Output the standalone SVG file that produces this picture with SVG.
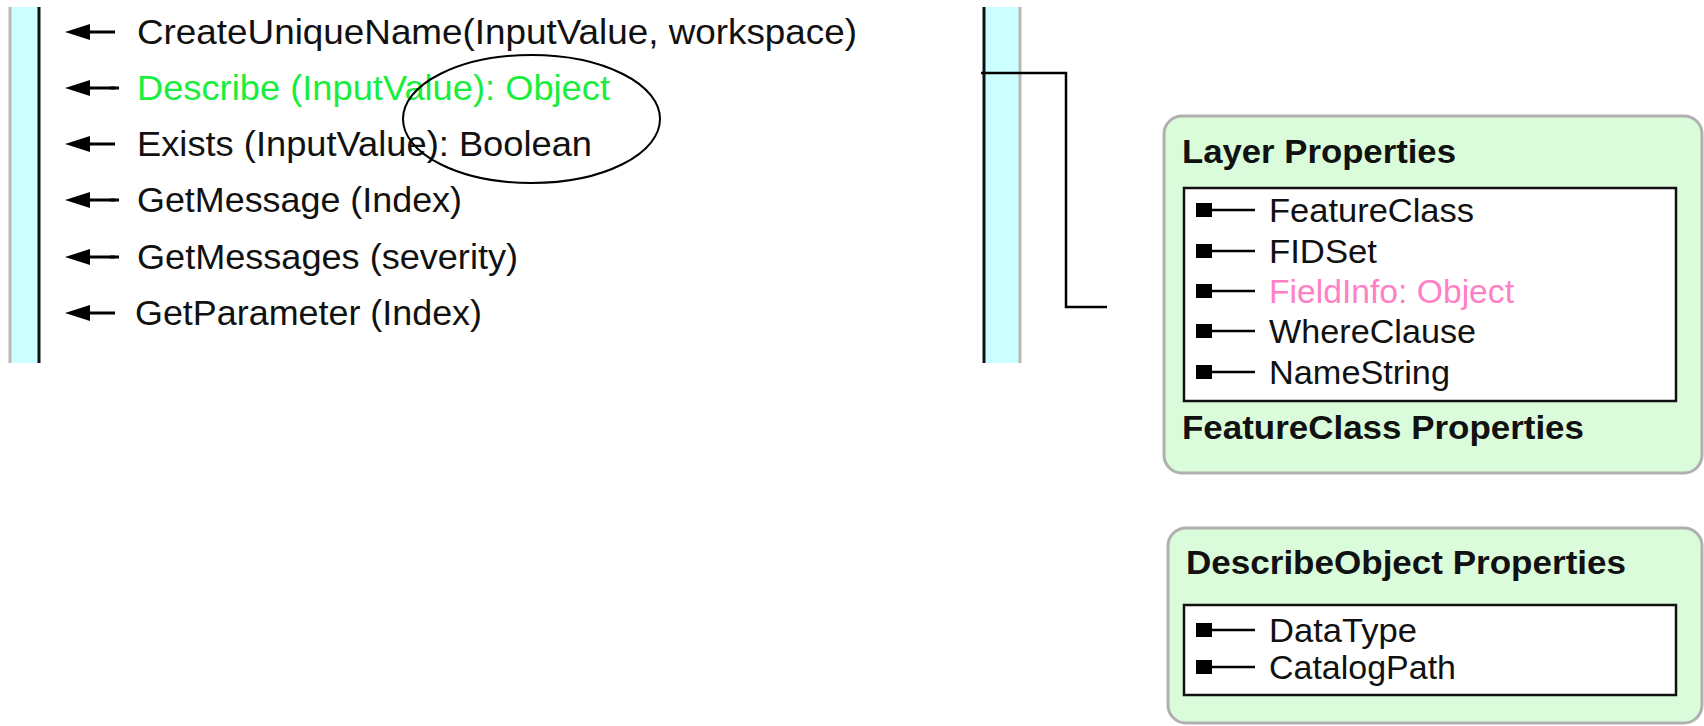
<svg xmlns="http://www.w3.org/2000/svg" width="1704" height="726" viewBox="0 0 1704 726">
  <style>
    .band { fill: #ccffff; }
    .edge-gray { stroke: #b8b8b8; stroke-width: 3; }
    .edge-dark { stroke: #111111; stroke-width: 3; }
    .method { font-family: "Liberation Sans", Arial, sans-serif; font-size: 35px; fill: #111111; }
    .method.hl { fill: #19ee3c; }
    .panel { fill: #dafcda; stroke: #b0b0b0; stroke-width: 3; }
    .list { fill: #ffffff; stroke: #111111; stroke-width: 2.5; }
    .title { font-family: "Liberation Sans", Arial, sans-serif; font-size: 33px; font-weight: bold; fill: #111111; }
    .prop { font-family: "Liberation Sans", Arial, sans-serif; font-size: 33px; fill: #111111; }
    .prop.hl { fill: #ff80c4; }
    .wire { stroke: #000000; stroke-width: 2.5; fill: none; stroke-linejoin: miter; }
  </style>
  <defs>
    <!-- call arrow: filled head pointing left, tip at the origin -->
    <g id="callArrow">
      <path d="M0,0 L25,-8 L25,8 Z" fill="#000000"/>
      <line x1="20" y1="0" x2="50" y2="0" stroke="#000000" stroke-width="3"/>
    </g>
    <!-- attribute bullet: filled square followed by a short line -->
    <g id="attrBullet">
      <rect x="0" y="-7" width="16" height="14" fill="#000000"/>
      <line x1="15" y1="0" x2="59" y2="0" stroke="#000000" stroke-width="2.5"/>
    </g>
  </defs>

  <rect width="1704" height="726" fill="#ffffff"/>

  <!-- left lifeline band -->
  <g id="lifeline-left">
    <rect class="band" x="10" y="7" width="29" height="356"/>
    <line class="edge-gray" x1="10" y1="7" x2="10" y2="363"/>
    <line class="edge-dark" x1="39" y1="7" x2="39" y2="363"/>
  </g>

  <!-- right lifeline band -->
  <g id="lifeline-right">
    <rect class="band" x="984" y="7" width="36" height="356"/>
    <line class="edge-dark" x1="984" y1="7" x2="984" y2="363"/>
    <line class="edge-gray" x1="1020" y1="7" x2="1020" y2="363"/>
  </g>

  <!-- method calls -->
  <g id="m-createuniquename">
    <use href="#callArrow" x="65" y="32"/>
    <text class="method" x="137" y="44" textLength="720" lengthAdjust="spacingAndGlyphs">CreateUniqueName(InputValue, workspace)</text>
  </g>
  <g id="m-describe">
    <use href="#callArrow" x="65" y="88" transform="translate(0,0)"/>
    <line x1="110" y1="88" x2="119" y2="88" stroke="#000000" stroke-width="3"/>
    <text class="method hl" x="137" y="100" textLength="473" lengthAdjust="spacingAndGlyphs">Describe (InputValue): Object</text>
  </g>
  <g id="m-exists">
    <use href="#callArrow" x="65" y="144"/>
    <text class="method" x="137" y="156" textLength="455" lengthAdjust="spacingAndGlyphs">Exists (InputValue): Boolean</text>
  </g>
  <g id="m-getmessage">
    <use href="#callArrow" x="65" y="200"/>
    <line x1="110" y1="200" x2="119" y2="200" stroke="#000000" stroke-width="3"/>
    <text class="method" x="137" y="212" textLength="325" lengthAdjust="spacingAndGlyphs">GetMessage (Index)</text>
  </g>
  <g id="m-getmessages">
    <use href="#callArrow" x="65" y="257"/>
    <line x1="110" y1="257" x2="119" y2="257" stroke="#000000" stroke-width="3"/>
    <text class="method" x="137" y="269" textLength="381" lengthAdjust="spacingAndGlyphs">GetMessages (severity)</text>
  </g>
  <g id="m-getparameter">
    <use href="#callArrow" x="65" y="313"/>
    <text class="method" x="135" y="325" textLength="347" lengthAdjust="spacingAndGlyphs">GetParameter (Index)</text>
  </g>

  <!-- highlight ring around the return types -->
  <g id="highlight">
    <ellipse cx="531.5" cy="119" rx="128.5" ry="64" fill="none" stroke="#000000" stroke-width="2"/>
  </g>

  <!-- connectors -->
  <g id="connectors">
    <polyline class="wire" points="981,73 1066,73 1066,307 1107,307"/>
  </g>

  <!-- Layer / FeatureClass properties -->
  <g id="layer-properties">
    <rect class="panel" x="1164" y="116" width="538" height="357" rx="18" ry="18"/>
    <text class="title" x="1182" y="163" textLength="274" lengthAdjust="spacingAndGlyphs">Layer Properties</text>
    <rect class="list" x="1184" y="188" width="492" height="213"/>
    <use href="#attrBullet" x="1196" y="210"/>
    <text class="prop" x="1269" y="222" textLength="205" lengthAdjust="spacingAndGlyphs">FeatureClass</text>
    <use href="#attrBullet" x="1196" y="251"/>
    <text class="prop" x="1269" y="263" textLength="108" lengthAdjust="spacingAndGlyphs">FIDSet</text>
    <use href="#attrBullet" x="1196" y="291"/>
    <text class="prop hl" x="1269" y="303" textLength="245" lengthAdjust="spacingAndGlyphs">FieldInfo: Object</text>
    <use href="#attrBullet" x="1196" y="331"/>
    <text class="prop" x="1269" y="343" textLength="207" lengthAdjust="spacingAndGlyphs">WhereClause</text>
    <use href="#attrBullet" x="1196" y="372"/>
    <text class="prop" x="1269" y="384" textLength="181" lengthAdjust="spacingAndGlyphs">NameString</text>
    <text class="title" x="1182" y="439" textLength="402" lengthAdjust="spacingAndGlyphs">FeatureClass Properties</text>
  </g>

  <!-- Describe object properties -->
  <g id="describe-properties">
    <rect class="panel" x="1168" y="528" width="534" height="195" rx="18" ry="18"/>
    <text class="title" x="1186" y="574" textLength="440" lengthAdjust="spacingAndGlyphs">DescribeObject Properties</text>
    <rect class="list" x="1184" y="605" width="492" height="90"/>
    <use href="#attrBullet" x="1196" y="630"/>
    <text class="prop" x="1269" y="642" textLength="148" lengthAdjust="spacingAndGlyphs">DataType</text>
    <use href="#attrBullet" x="1196" y="667"/>
    <text class="prop" x="1269" y="679" textLength="187" lengthAdjust="spacingAndGlyphs">CatalogPath</text>
  </g>
</svg>
